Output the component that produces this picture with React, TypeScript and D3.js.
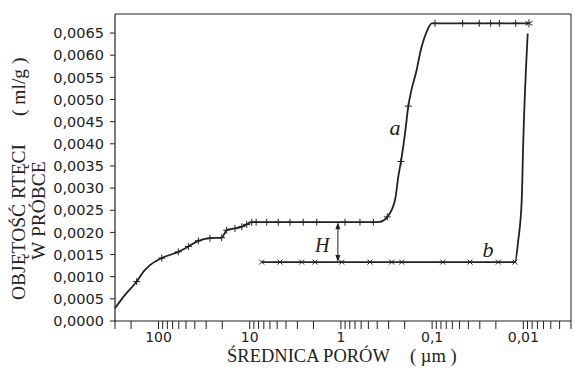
import * as d3 from 'd3'

const W = 574
const H = 370
const M = { left: 115, right: 571, top: 14, bottom: 321 }

// krzywa a (intruzja) - średnica [µm], objętość [ml/g], znacznik "+"
const A_DIAM = [300, 233, 173.5, 146.8, 124, 92.3, 60.7, 47.1, 36.6, 27.3, 20.3, 17.9, 14.5, 12.2, 10.8, 9.5, 8.5,
  6.51, 4.86, 3.62, 2.59, 1.84, 0.902, 0.618, 0.441, 0.373, 0.31, 0.255, 0.2348, 0.2194, 0.198, 0.1824, 0.1674,
  0.1475, 0.1357, 0.1146, 0.101, 0.0929, 0.0462, 0.0304, 0.0228, 0.01833, 0.01212, 0.00866]
const A_VOL = [0.00029, 0.00059, 0.00089, 0.00111, 0.00126, 0.00142, 0.00156, 0.00168, 0.00181, 0.00187, 0.00188,
  0.00205, 0.00209, 0.00213, 0.00218, 0.00223, 0.00223, 0.00223, 0.00223, 0.00223, 0.00223, 0.00223, 0.00223,
  0.00223, 0.00223, 0.00224, 0.00235, 0.00273, 0.00326, 0.0036, 0.00424, 0.00485, 0.00524, 0.00567, 0.00604,
  0.00653, 0.00672, 0.00672, 0.00672, 0.00672, 0.00672, 0.00672, 0.00672, 0.00672]
const A_MARK = [0, 0, 1, 0, 0, 1, 1, 1, 1, 1, 1, 1, 1, 1, 1, 1, 1,
  1, 1, 1, 1, 1, 1, 1, 1, 0, 1, 0, 0, 1, 0, 1, 0,
  0, 0, 0, 0, 1, 1, 1, 1, 1, 1, 2]

// krzywa b (ekstruzja) - znacznik "x"
const B_DIAM = [7.39, 4.66, 2.69, 1.92, 0.98, 0.48, 0.2773, 0.2156, 0.0765, 0.0384, 0.0188, 0.01234, 0.01135,
  0.01041, 0.01, 0.00895]
const B_VOL = [0.00133, 0.00133, 0.00133, 0.00133, 0.00133, 0.00133, 0.00133, 0.00133, 0.00133, 0.00133, 0.00133,
  0.00133, 0.00183, 0.00273, 0.00409, 0.00649]
const B_MARK = [1, 1, 1, 1, 1, 1, 1, 1, 1, 1, 1, 1, 0, 0, 0, 0]

const Y_TICKS = d3.range(0, 14).map(i => i * 0.0005)
const X_LABELS = [100, 10, 1, 0.1, 0.01]
const X_TEXT = ['100', '10', '1', '0,1', '0,01']

const H_AT = 1.08
const H_TOP = 0.00223
const H_BOT = 0.00133

const INK = '#222'
const SANS = 'DejaVu Sans, sans-serif'
const SERIF = 'Liberation Serif, Times New Roman, serif'

export default function App() {
  const x = d3.scaleLog().domain([300, 0.003]).range([M.left, M.right])
  const y = d3.scaleLinear().domain([0, 0.00693]).range([M.bottom, M.top])

  const line = d3.line<[number, number]>()
    .x(d => x(d[0])).y(d => y(d[1]))
    .curve(d3.curveMonotoneX)

  const aPts: [number, number][] = A_DIAM.map((d, i) => [d, A_VOL[i]])
  const bPts: [number, number][] = B_DIAM.map((d, i) => [d, B_VOL[i]])

  const minor = x.ticks()
  const yFmt = (v: number) => d3.format('.4f')(v).replace('.', ',')

  const hx = x(H_AT)
  const hy1 = y(H_TOP)
  const hy2 = y(H_BOT)

  return (
    <svg width={W} height={H} style={{ position: 'fixed', left: 0, top: 0, background: '#fff' }}>
      {/* ramka */}
      <line x1={M.left} x2={M.right} y1={M.top} y2={M.top} stroke={INK} strokeWidth={1} />
      <line x1={M.right} x2={M.right} y1={M.top} y2={M.bottom} stroke={INK} strokeWidth={1} />
      <line x1={M.left} x2={M.left} y1={M.top} y2={M.bottom + 1} stroke={INK} strokeWidth={1.2} />
      <line x1={M.left} x2={M.right} y1={M.bottom} y2={M.bottom} stroke={INK} strokeWidth={1.2} />

      {/* oś Y */}
      {Y_TICKS.map(t => (
        <g key={t}>
          <line x1={M.left - 5} x2={M.left} y1={y(t)} y2={y(t)} stroke={INK} />
          <text x={104} y={y(t)} dy="0.36em" textAnchor="end" fontFamily={SANS} fontSize={14.5} fill={INK}>
            {yFmt(t)}
          </text>
        </g>
      ))}

      {/* oś X */}
      {minor.map((t, i) => (
        <line key={i} x1={x(t)} x2={x(t)} y1={M.bottom} y2={M.bottom + 8} stroke={INK} />
      ))}
      {X_LABELS.map((t, i) => (
        <text key={t} x={x(t)} y={341.5} textAnchor="middle" fontFamily={SANS} fontSize={14} fill={INK}>
          {X_TEXT[i]}
        </text>
      ))}

      {/* tytuły osi */}
      <text x={227} y={361.5} fontFamily={SERIF} fontSize={18.5} fill={INK}>ŚREDNICA PORÓW</text>
      <text x={410} y={361.5} fontFamily={SERIF} fontSize={18.5} fill={INK}>( µm )</text>
      <text transform="translate(25,300) rotate(-90)" fontFamily={SERIF} fontSize={19.5} fill={INK}>OBJĘTOŚĆ RTĘCI</text>
      <text transform="translate(25,116) rotate(-90)" fontFamily={SERIF} fontSize={19.5} fill={INK}>( ml/g )</text>
      <text transform="translate(45,260) rotate(-90)" fontFamily={SERIF} fontSize={19.5} fill={INK}>W PRÓBCE</text>

      {/* krzywe */}
      <path d={line(aPts) || ''} fill="none" stroke={INK} strokeWidth={1.8} />
      <path d={line(bPts) || ''} fill="none" stroke={INK} strokeWidth={1.8} />

      {aPts.map((p, i) => {
        if (!A_MARK[i]) return null
        const cx = x(p[0]), cy = y(p[1])
        if (A_MARK[i] === 2) {
          return (
            <g key={i} stroke={INK} strokeWidth={1}>
              <line x1={cx} x2={cx} y1={cy - 4} y2={cy + 4} />
              <line x1={cx - 3.5} x2={cx + 3.5} y1={cy - 2} y2={cy + 2} />
              <line x1={cx - 3.5} x2={cx + 3.5} y1={cy + 2} y2={cy - 2} />
            </g>
          )
        }
        return (
          <g key={i} stroke={INK} strokeWidth={1}>
            <line x1={cx} x2={cx} y1={cy - 3.5} y2={cy + 3.5} />
            <line x1={cx - 3.5} x2={cx + 3.5} y1={cy} y2={cy} />
          </g>
        )
      })}
      {bPts.map((p, i) => {
        if (!B_MARK[i]) return null
        const cx = x(p[0]), cy = y(p[1])
        return (
          <g key={i} stroke={INK} strokeWidth={1}>
            <line x1={cx - 2.5} x2={cx + 2.5} y1={cy - 2.5} y2={cy + 2.5} />
            <line x1={cx - 2.5} x2={cx + 2.5} y1={cy + 2.5} y2={cy - 2.5} />
          </g>
        )
      })}

      {/* strzałka H */}
      <line x1={hx} x2={hx} y1={hy1 + 2} y2={hy2 - 2} stroke={INK} strokeWidth={1} />
      <path d={`M${hx},${hy1} l-2.5,7 l5,0 Z`} fill={INK} />
      <path d={`M${hx},${hy2} l-2.5,-7 l5,0 Z`} fill={INK} />
      <text x={x(1.6)} y={y(0.00134) - 10} textAnchor="middle" fontFamily={SERIF} fontStyle="italic" fontSize={20} fill={INK}>H</text>

      {/* etykiety krzywych */}
      <text x={x(0.255)} y={y(0.0042)} textAnchor="middle" fontFamily={SERIF} fontStyle="italic" fontSize={22} fill={INK}>a</text>
      <text x={x(0.0244)} y={y(0.00145)} textAnchor="middle" fontFamily={SERIF} fontStyle="italic" fontSize={22} fill={INK}>b</text>
    </svg>
  )
}
